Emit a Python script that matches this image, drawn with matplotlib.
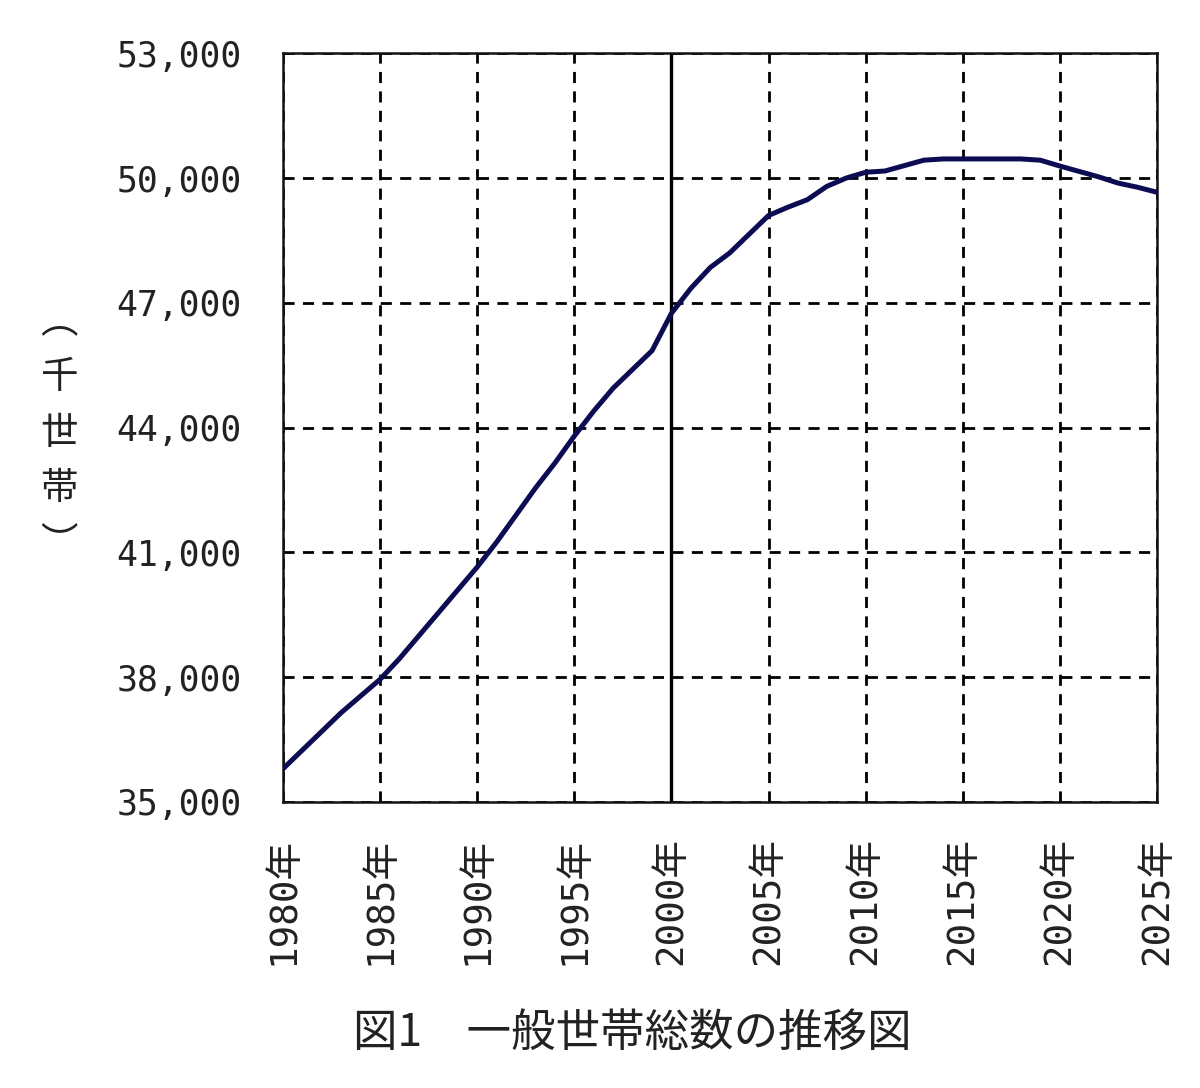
import matplotlib
matplotlib.use("Agg")
import matplotlib.pyplot as plt
from matplotlib.ticker import FuncFormatter

plt.rcParams['font.family'] = ['DejaVu Sans Mono', 'Noto Sans CJK JP']

# 一般世帯総数 (千世帯)
years = list(range(1980, 2026))
households = [35800, 36250, 36700, 37150, 37550, 37950, 38450, 39000, 39550, 40100,
              40650, 41250, 41900, 42550, 43150, 43800, 44400, 44950, 45400, 45850,
              46750, 47350, 47850, 48200, 48650, 49100, 49300, 49480, 49800, 50000,
              50140, 50170, 50300, 50430, 50460, 50460, 50460, 50460, 50460, 50430,
              50290, 50160, 50030, 49880, 49780, 49660]
x_ticks = [1980, 1985, 1990, 1995, 2000, 2005, 2010, 2015, 2020, 2025]
y_ticks = [35000, 38000, 41000, 44000, 47000, 50000, 53000]
title = "図1　一般世帯総数の推移図"
ylabel = "︵\n千\n世\n帯\n︶"

fig = plt.figure(figsize=(12, 10.88), dpi=100)
ax = fig.add_axes([0.236, 0.263, 0.728, 0.688])

ax.plot(years, households, color='#0c0c52', lw=3.6, zorder=3)
ax.axvline(2000, color='black', lw=2.4, zorder=2)

ax.set_xlim(1980, 2025)
ax.set_ylim(35000, 53000)
ax.set_xticks(x_ticks)
ax.set_yticks(y_ticks)
ax.set_xticklabels([f"{y}年" for y in x_ticks], rotation=90)
ax.yaxis.set_major_formatter(FuncFormatter(lambda v, p: f"{int(v):,}"))
ax.tick_params(axis='y', length=0, pad=30, labelsize=25, colors='#222222')
ax.tick_params(axis='x', length=0, pad=25, labelsize=27, colors='#222222')

ax.grid(True, color='black', lw=2.0, linestyle=(0, (4, 3)))
for s in ax.spines.values():
    s.set_linewidth(1.8)
    s.set_color('#111111')

fig.text(0.049, 0.602, ylabel, fontsize=27, ha='center', va='center',
         linespacing=1.55, color='#222222', family=['Noto Sans CJK JP'])
fig.text(0.527, 0.051, title, fontsize=32, ha='center', va='center',
         color='#222222', family=['Noto Sans CJK JP'])

fig.savefig("out.png", dpi=100)
